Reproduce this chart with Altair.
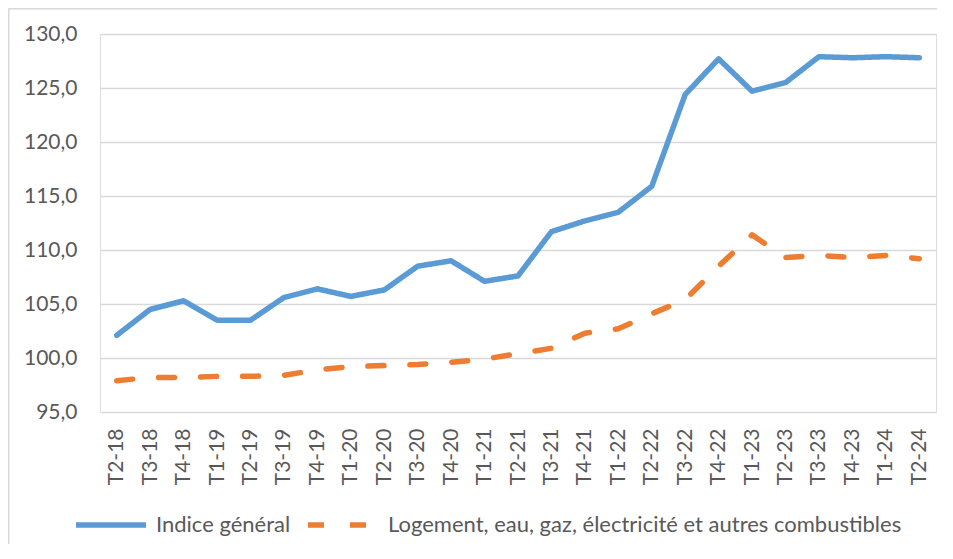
import altair as alt
import pandas as pd

periods = ["T2-18", "T3-18", "T4-18", "T1-19", "T2-19", "T3-19", "T4-19", "T1-20", "T2-20",
           "T3-20", "T4-20", "T1-21", "T2-21", "T3-21", "T4-21", "T1-22", "T2-22", "T3-22",
           "T4-22", "T1-23", "T2-23", "T3-23", "T4-23", "T1-24", "T2-24"]
indice_general = [102.1, 104.5, 105.3, 103.5, 103.5, 105.6, 106.4, 105.7, 106.3, 108.5, 109.0,
                  107.1, 107.6, 111.7, 112.7, 113.5, 115.9, 124.4, 127.7, 124.7, 125.5, 127.9,
                  127.8, 127.9, 127.8]
logement = [97.9, 98.2, 98.2, 98.3, 98.3, 98.4, 98.9, 99.2, 99.3, 99.4, 99.6, 99.9, 100.4,
            100.9, 102.3, 102.7, 104.1, 105.4, 108.5, 111.4, 109.3, 109.5, 109.3, 109.5, 109.2]
series_names = ["Indice général", "Logement, eau, gaz, électricité et autres combustibles"]
colors = ["#5B9BD5", "#ED7D31"]

rows = []
for i, p in enumerate(periods):
    rows.append({"periode": p, "serie": series_names[0], "valeur": indice_general[i]})
    rows.append({"periode": p, "serie": series_names[1], "valeur": logement[i]})
df = pd.DataFrame(rows)

FONT = "Lato"
TXT = "#595959"
GRID = "#D9D9D9"


def make_legend():
    return alt.Legend(title=None, orient="none", direction="horizontal",
                      legendX=-27, legendY=453,
                      symbolType="stroke", symbolSize=4900, symbolStrokeWidth=5.5,
                      labelFont=FONT, labelFontSize=22, labelColor=TXT,
                      labelOffset=7, columnPadding=6, labelLimit=800)


lines = alt.Chart(df).mark_line(strokeWidth=5.5, strokeCap="round", strokeJoin="round").encode(
    x=alt.X("periode:N", sort=periods,
            scale=alt.Scale(type="point", padding=0.5),
            axis=alt.Axis(title=None, labelAngle=-90, labelAlign="right", labelBaseline="middle",
                          labelPadding=16, ticks=False, domain=False, grid=False,
                          labelFont=FONT, labelFontSize=21, labelColor=TXT)),
    y=alt.Y("valeur:Q", scale=alt.Scale(domain=[95, 130], nice=False, zero=False),
            axis=alt.Axis(title=None, values=[95, 100, 105, 110, 115, 120, 125, 130],
                          labelExpr="replace(format(datum.value, '.1f'), '.', ',')",
                          labelPadding=23, ticks=False, domain=False,
                          grid=True, gridColor=GRID, gridWidth=1.5,
                          labelFont=FONT, labelFontSize=21, labelColor=TXT)),
    color=alt.Color("serie:N", sort=series_names,
                    scale=alt.Scale(domain=series_names, range=colors),
                    legend=make_legend()),
    strokeDash=alt.StrokeDash("serie:N", sort=series_names,
                              scale=alt.Scale(domain=series_names, range=[[1, 0], [16, 26]]),
                              legend=make_legend()),
)

# chart-area border (left and top edges)
border_left = alt.Chart(pd.DataFrame({"k": [0]})).mark_rule(color=GRID, strokeWidth=1.5).encode(
    x=alt.value(-91.25), y=alt.value(-26), y2=alt.value(600))
border_top = alt.Chart(pd.DataFrame({"k": [0]})).mark_rule(color=GRID, strokeWidth=1.5).encode(
    x=alt.value(-92), x2=alt.value(1000), y=alt.value(-25.25))

chart = alt.layer(border_left, border_top, lines).properties(
    width=836, height=378,
    autosize=alt.AutoSizeParams(type="none"),
    padding={"left": 92, "top": 26, "right": 1, "bottom": 132},
).configure_view(stroke=None).configure(background="white")

chart.save("out.html", embed_options={"renderer": "svg", "actions": False})
